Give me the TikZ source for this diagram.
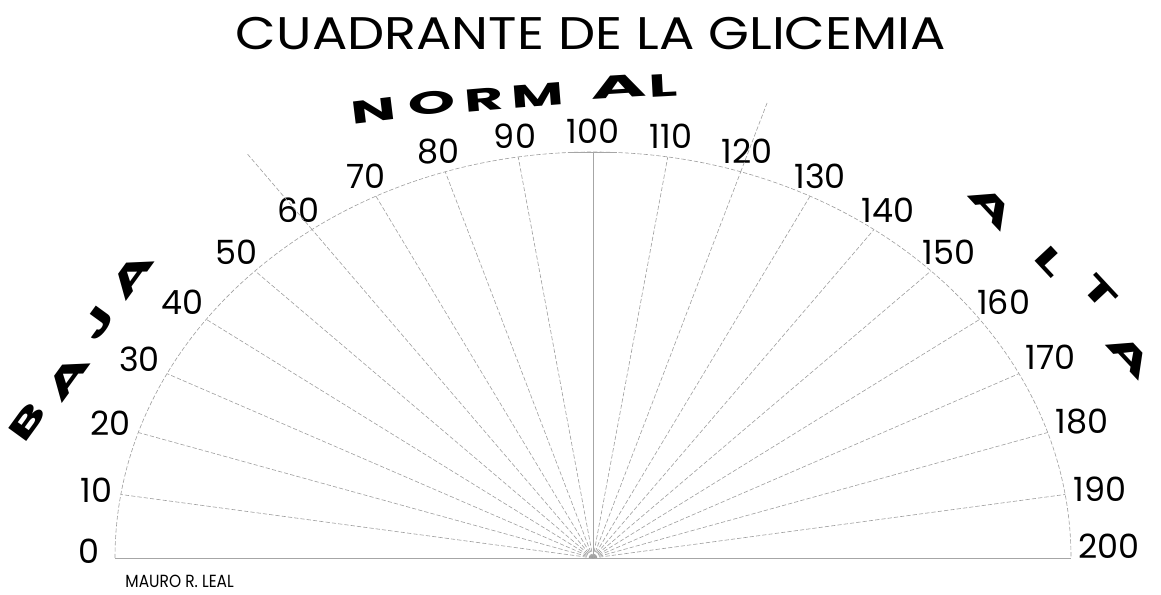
\documentclass[tikz,border=0pt]{standalone}
\usepackage{fontspec}
\setmainfont{Poppins}
\usetikzlibrary{calc}
\tikzset{
    every node/.style={font=\fontsize{19}{22}\selectfont},
}

\begin{document}
\begin{tikzpicture}[x=0.02cm, y=0.02cm,
        ray/.style={gray!75, line width=0.35pt, dash pattern=on 2.4pt off 1.2pt},
        base/.style={gray!70, line width=0.4pt},
        scalelabel/.style={inner sep=0pt},
        zone/.style={font=\fontsize{18}{20}\bfseries\selectfont, inner sep=0pt}
    ]
    \useasboundingbox (0,0) rectangle (1161,595);

    % centro del cuadrante
    \coordinate (C) at (593,37);

    % titulo y autor
    \node[xscale=1.15] (title) at (591,561) {\fontsize{26}{30}\selectfont CUADRANTE DE LA GLICEMIA};
    \node[anchor=west, xscale=0.88, font=\fontsize{10}{12}\selectfont] (author) at (120,14) {MAURO R. LEAL};

    % semicirculo y base
    \coordinate (p0) at ($(C)+(-478,0)$);
    \coordinate (p200) at ($(C)+(478,0)$);
    \draw[ray] (p0) arc[start angle=180, end angle=0, x radius=478, y radius=406];
    \draw[base] (p0) -- (p200);

    % rayos y escala cada 10
    \foreach \v in {10,20,...,190} {
        \pgfmathsetmacro{\a}{180-0.9*\v}
        \pgfmathtruncatemacro{\b}{360-0.9*\v}
        \coordinate (p\v) at ($(C)+(\a:478 and 406)$);
        \draw[ray] (C) -- (p\v);
        \node[scalelabel, anchor=\b] (l\v) at ($(C)+(\a:486 and 414)$) {\v};
    }
    \node[scalelabel, anchor=east] (l0) at ($(p0)+(-15,7)$) {0};
    \node[scalelabel, anchor=west] (l200) at ($(p200)+(7,12)$) {200};

    % linea central y marca superior
    \draw[base] (C) -- (p100);
    \draw[base] ($(p100)+(-25,0)$) -- ($(p100)+(24,0)$);

    % limites de la zona normal
    \coordinate (e60) at ($(C)!1.23!(p60)$);
    \coordinate (e120) at ($(C)!1.18!(p120)$);
    \draw[ray] (p60) -- (e60);
    \draw[ray] (p120) -- (e120);

    % NORMAL (arriba)
    \foreach \ch/\x/\y/\r/\s [count=\i] in {N/374/484/7/1.9, O/432/492/6/1.9, R/484/495/5/1.9,
            M/538/500/4.5/1.8, A/619/508/3.5/2.4, L/663/509/3/1.9}
        \node[zone, rotate=\r, xscale=\s] (normal\i) at (\x,\y) {\ch};

    % BAJA (izquierda)
    \foreach \ch/\x/\y/\s [count=\i] in {B/27/173/1.9, A/68/218/2.2, J/98/272/1.9, A/132/320/2.2}
        \node[zone, rotate=54, xscale=\s] (baja\i) at (\x,\y) {\ch};

    % ALTA (derecha)
    \foreach \ch/\x/\y/\s [count=\i] in {A/992/388/2.2, L/1050/334/1.9, T/1100/303/1.9, A/1130/239/2.2}
        \node[zone, rotate=-47, xscale=\s] (alta\i) at (\x,\y) {\ch};
\end{tikzpicture}
\end{document}
